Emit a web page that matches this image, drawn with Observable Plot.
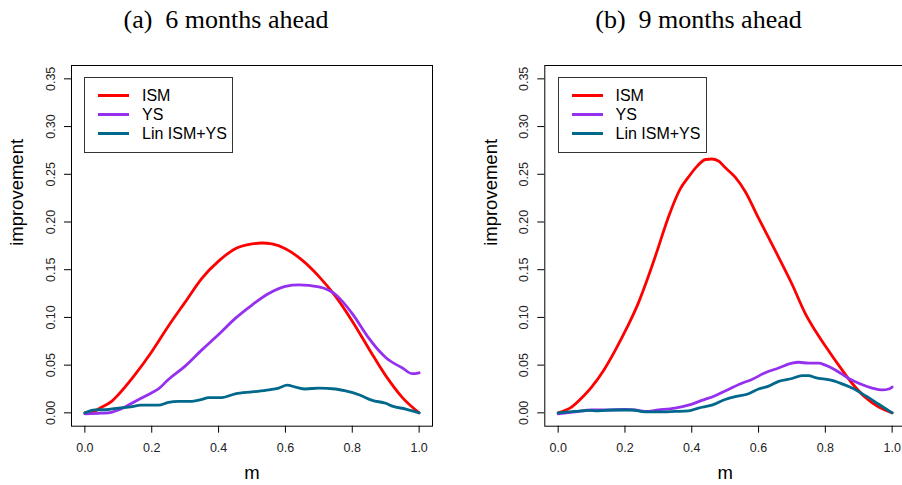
<!DOCTYPE html>
<html><head><meta charset="utf-8">
<script src="https://cdn.jsdelivr.net/npm/d3@7"></script>
<script src="https://cdn.jsdelivr.net/npm/@observablehq/plot@0.6"></script>
<style>
html,body{margin:0;padding:0;background:#fff;}
#wrap{position:relative;width:902px;height:485px;overflow:hidden;background:#fff;}
.panel{position:absolute;top:0;height:485px;}
.title{position:absolute;top:0;height:40px;line-height:40px;width:400px;text-align:center;font-family:"Liberation Serif","Times New Roman",serif;font-size:26px;color:#000;white-space:pre;}
.legend{position:absolute;top:76.5px;width:147px;height:74.5px;border:1px solid #333;background:#fff;font-family:"Liberation Sans",Arial,sans-serif;font-size:16px;color:#000;}
.row{position:absolute;left:0;height:19px;}
.sw{position:absolute;left:13px;width:31px;height:3px;}
.lab{position:absolute;left:57px;top:-9px;line-height:18px;white-space:nowrap;}
</style>
</head><body>
<div id="wrap"></div>
<script>
// ---------- data ----------
const panelTitles = ["(a)  6 months ahead", "(b)  9 months ahead"];
const seriesNames = ["ISM", "YS", "Lin ISM+YS"];
const seriesColors = ["#ff0000", "#9530ee", "#00688b"];
const xTicks = [0, 0.2, 0.4, 0.6, 0.8, 1.0];
const yTicks = [0, 0.05, 0.10, 0.15, 0.20, 0.25, 0.30, 0.35];
const xLabel = "m";
const yLabel = "improvement";

// Panel (a): 6 months ahead
const a_ism_m = [0, 0.03, 0.05, 0.08, 0.1, 0.15, 0.2, 0.25, 0.3, 0.35, 0.4, 0.45, 0.5, 0.53, 0.56, 0.6, 0.65, 0.7, 0.75, 0.8, 0.85, 0.9, 0.95, 1.0];
const a_ism_v = [0, 0.002, 0.006, 0.012, 0.019, 0.040, 0.064, 0.091, 0.116, 0.141, 0.159, 0.172, 0.177, 0.178, 0.177, 0.172, 0.160, 0.143, 0.122, 0.096, 0.067, 0.039, 0.016, 0];
const a_ys_m = [0, 0.04, 0.07, 0.1, 0.15, 0.2, 0.22, 0.25, 0.3, 0.35, 0.4, 0.45, 0.5, 0.55, 0.6, 0.64, 0.7, 0.75, 0.8, 0.85, 0.88, 0.9, 0.95, 0.98, 1.0];
const a_ys_v = [-0.001, -0.0005, 0.0, 0.003, 0.012, 0.021, 0.025, 0.035, 0.049, 0.066, 0.082, 0.099, 0.113, 0.125, 0.1325, 0.134, 0.132, 0.124, 0.104, 0.078, 0.065, 0.058, 0.047, 0.041, 0.042];
const a_lin_m = [0, 0.03, 0.07, 0.1, 0.13, 0.17, 0.22, 0.25, 0.28, 0.32, 0.35, 0.37, 0.41, 0.45, 0.5, 0.55, 0.58, 0.605, 0.63, 0.66, 0.7, 0.75, 0.78, 0.82, 0.86, 0.9, 0.92, 0.96, 1.0];
const a_lin_v = [0, 0.003, 0.0035, 0.005, 0.006, 0.008, 0.008, 0.011, 0.012, 0.012, 0.014, 0.016, 0.016, 0.020, 0.022, 0.024, 0.026, 0.029, 0.027, 0.025, 0.026, 0.025, 0.023, 0.019, 0.013, 0.010, 0.007, 0.004, 0];

// Panel (b): 9 months ahead
const b_ism_m = [0, 0.04, 0.077, 0.1, 0.137, 0.17, 0.207, 0.24, 0.267, 0.29, 0.306, 0.33, 0.366, 0.39, 0.415, 0.441, 0.46, 0.48, 0.5, 0.53, 0.56, 0.6, 0.65, 0.7, 0.74, 0.77, 0.8, 0.85, 0.88, 0.92, 0.96, 1.0];
const b_ism_v = [0, 0.006, 0.018, 0.027, 0.045, 0.065, 0.090, 0.115, 0.140, 0.163, 0.180, 0.205, 0.235, 0.247, 0.258, 0.2655, 0.266, 0.264, 0.257, 0.247, 0.232, 0.204, 0.170, 0.135, 0.104, 0.086, 0.070, 0.045, 0.031, 0.016, 0.006, 0];
const b_ys_m = [0, 0.05, 0.1, 0.15, 0.2, 0.23, 0.26, 0.3, 0.35, 0.39, 0.43, 0.47, 0.5, 0.55, 0.58, 0.62, 0.66, 0.7, 0.72, 0.75, 0.78, 0.8, 0.83, 0.87, 0.9, 0.94, 0.97, 0.99, 1.0];
const b_ys_v = [-0.001, 0.001, 0.003, 0.003, 0.0035, 0.003, 0.0015, 0.003, 0.005, 0.008, 0.013, 0.018, 0.023, 0.031, 0.035, 0.042, 0.047, 0.052, 0.053, 0.052, 0.052, 0.050, 0.045, 0.036, 0.031, 0.026, 0.024, 0.025, 0.027];
const b_lin_m = [0, 0.05, 0.09, 0.12, 0.16, 0.22, 0.26, 0.3, 0.35, 0.39, 0.42, 0.46, 0.5, 0.53, 0.57, 0.6, 0.63, 0.66, 0.7, 0.73, 0.75, 0.77, 0.82, 0.86, 0.88, 0.92, 0.96, 1.0];
const b_lin_v = [0, 0.0015, 0.0025, 0.002, 0.003, 0.003, 0.001, 0.001, 0.0015, 0.002, 0.005, 0.008, 0.014, 0.017, 0.020, 0.025, 0.028, 0.033, 0.036, 0.039, 0.039, 0.037, 0.034, 0.029, 0.026, 0.018, 0.009, 0];

// ---------- build ----------
function table(ms, vs, s) { return ms.map((m, i) => ({m, v: vs[i], s})); }
const panelsData = [
  [table(a_ism_m, a_ism_v, 0), table(a_ys_m, a_ys_v, 1), table(a_lin_m, a_lin_v, 2)],
  [table(b_ism_m, b_ism_v, 0), table(b_ys_m, b_ys_v, 1), table(b_lin_m, b_lin_v, 2)]
];

const layouts = [
  {left: 0, width: 451, ml: 71, mr: 19, titleCenter: 226, legendLeft: 84},
  {left: 451, width: 454, ml: 93.3, mr: 0, titleCenter: 247.5, legendLeft: 106.5}
];

const wrap = document.getElementById("wrap");

panelsData.forEach((series, p) => {
  const L = layouts[p];
  const div = document.createElement("div");
  div.className = "panel";
  div.style.left = L.left + "px";
  div.style.width = L.width + "px";

  const t = document.createElement("div");
  t.className = "title";
  t.style.left = (L.titleCenter - 200) + "px";
  t.textContent = panelTitles[p].replace("  ", "\u00a0\u00a0");
  div.appendChild(t);

  const chart = Plot.plot({
    width: L.width,
    height: 445,
    marginLeft: L.ml,
    marginRight: L.mr,
    marginTop: 25,
    marginBottom: 59.3,
    x: {domain: [-0.04, 1.04]},
    y: {domain: [-0.014, 0.364]},
    style: {fontFamily: "'Liberation Sans', Arial, sans-serif", color: "#000", background: "transparent", overflow: "visible"},
    marks: [
      ...series.map((d, i) => Plot.line(d, {x: "m", y: "v", stroke: seriesColors[i], strokeWidth: 2.8, curve: "monotone-x", strokeLinejoin: "round", strokeLinecap: "round"})),
      Plot.frame({stroke: "#000", strokeWidth: 1}),
      Plot.axisX(xTicks, {tickSize: 7, tickPadding: 10, tickFormat: d3.format(".1f"), fontSize: 12.5, label: null, fill: "#222"}),
      Plot.axisY(yTicks, {tickSize: 7, tickPadding: 10, tickRotate: -90, tickFormat: d3.format(".2f"), fontSize: 12.5, label: null, fill: "#222"}),
      Plot.text([xLabel], {frameAnchor: "bottom", dy: 53, fontSize: 18.5, text: d => d}),
      Plot.text([yLabel], {frameAnchor: "left", dx: -54, rotate: -90, fontSize: 18.5, text: d => d})
    ]
  });
  chart.style.position = "absolute";
  chart.style.top = "40px";
  chart.style.left = "0px";
  div.appendChild(chart);

  const lg = document.createElement("div");
  lg.className = "legend";
  lg.style.left = L.legendLeft + "px";
  seriesNames.forEach((name, i) => {
    const row = document.createElement("div");
    row.className = "row";
    row.style.top = (18 + 19 * i) + "px";
    const sw = document.createElement("div");
    sw.className = "sw";
    sw.style.background = seriesColors[i];
    sw.style.top = "-1.5px";
    const lab = document.createElement("div");
    lab.className = "lab";
    lab.textContent = name;
    row.appendChild(sw);
    row.appendChild(lab);
    lg.appendChild(row);
  });
  div.appendChild(lg);

  wrap.appendChild(div);
});
</script>
</body></html>
